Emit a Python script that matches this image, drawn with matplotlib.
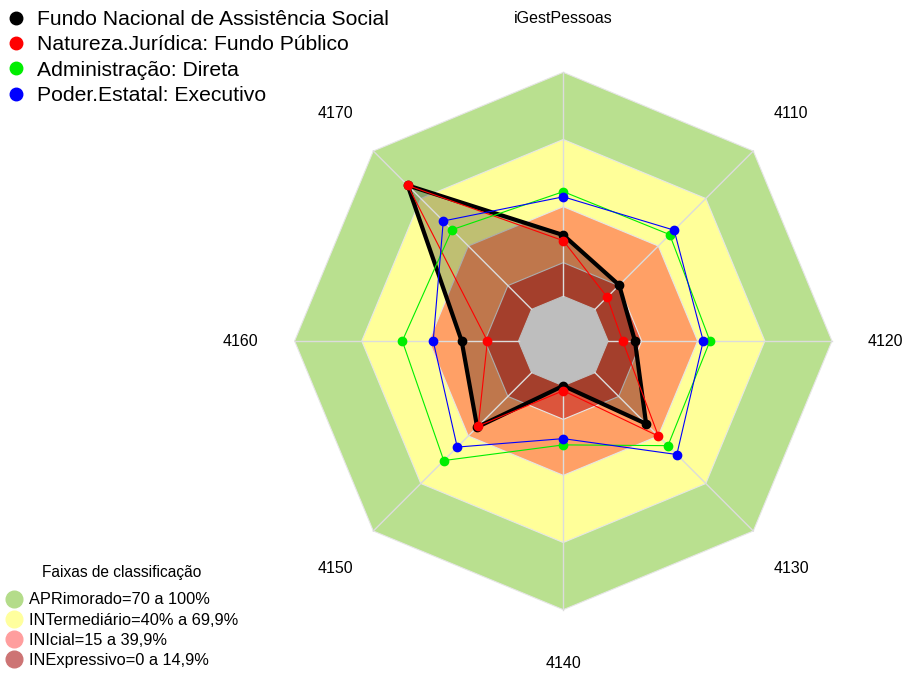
import numpy as np
import matplotlib
matplotlib.use('Agg')
import matplotlib.pyplot as plt
from matplotlib.lines import Line2D
from matplotlib.patches import Polygon

plt.rcParams['font.family'] = ['Liberation Sans', 'DejaVu Sans']

# dados
categorias = ['iGestPessoas', '4110', '4120', '4130', '4140', '4150', '4160', '4170']
fundo_nacional = [27.3, 15.3, 12.0, 32.3, 0.0, 34.4, 25.4, 78.3]
natureza_juridica = [24.8, 7.7, 6.5, 40.1, 2.2, 33.7, 13.9, 78.3]
administracao = [46.7, 47.2, 45.5, 46.1, 26.4, 55.5, 51.9, 50.3]
poder_estatal = [44.4, 50.0, 42.5, 51.7, 23.6, 47.0, 38.1, 55.8]
nomes_series = ['Fundo Nacional de Assistência Social',
                'Natureza.Jurídica: Fundo Público',
                'Administração: Direta',
                'Poder.Estatal: Executivo']
faixas_lim = [100, 70, 40, 15]
faixas_nomes = ['APRimorado=70 a 100%', 'INTermediário=40% a 69,9%',
                'INIcial=15 a 39,9%', 'INExpressivo=0 a 14,9%']

# estilos
cores_faixas = ['#B9E08F', '#FFFF99', '#FFA066', '#DC553C']
cores_leg_faixas = ['#B4DC8A', '#FFFF9E', '#FF9E9E', '#CD7474']
cores_series = ['black', 'red', '#00EE00', 'blue']
larg_series = [3.0, 0.8, 0.8, 0.8]

n = len(categorias)
ang = np.deg2rad(90 - 360 / n * np.arange(n))


def raio(v):
    # centro deslocado (1/6 do raio) como no fmsb
    return (1 + 5 * np.asarray(v, dtype=float) / 100) / 6


def xy(v):
    r = raio(v)
    return r * np.cos(ang), r * np.sin(ang)


fig = plt.figure(figsize=(9.05, 6.73), dpi=100)
ax = fig.add_axes([0, 0, 1, 1])
R = 268.7
cx, cy = 563.3, 341
ax.set_xlim(-cx / R, (905 - cx) / R)
ax.set_ylim(-(673 - cy) / R, cy / R)
ax.set_aspect('equal')
ax.axis('off')

# faixas
for lim, cor in zip(faixas_lim, cores_faixas):
    px, py = xy([lim] * n)
    ax.add_patch(Polygon(np.c_[px, py], closed=True, fc=cor, ec='#E6E6E6', lw=0.8, zorder=1))

# series
series = [fundo_nacional, natureza_juridica, administracao, poder_estatal]
px, py = xy(series[0])
ax.add_patch(Polygon(np.c_[px, py], closed=True, fc=(0, 0, 0, 0.25), ec='none', zorder=2))

# centro cinza e eixos por cima do preenchimento
px, py = xy([0] * n)
ax.add_patch(Polygon(np.c_[px, py], closed=True, fc='#BEBEBE', ec='#BEBEBE', lw=0.8, zorder=3))
x0, y0 = xy([0] * n)
x1, y1 = xy([100] * n)
for i in range(n):
    ax.plot([x0[i], x1[i]], [y0[i], y1[i]], color='#DCDCDC', lw=1, zorder=3)

for k, (vals, cor, lw) in enumerate(zip(series, cores_series, larg_series)):
    px, py = xy(vals)
    ax.plot(np.r_[px, px[0]], np.r_[py, py[0]], color=cor, lw=lw, zorder=4 + k)
    ax.plot(px, py, 'o', color=cor, ms=6, zorder=4 + k)

# rotulos
xl, yl = np.cos(ang) * 1.2, np.sin(ang) * 1.2
for i, c in enumerate(categorias):
    ax.text(xl[i], yl[i], c, ha='center', va='center', fontsize=11.5)

# legendas
h1 = [Line2D([], [], marker='o', ls='none', color=c, ms=9) for c in cores_series]
leg1 = fig.legend(h1, nomes_series, loc='upper left', bbox_to_anchor=(0.006, 0.985),
                  frameon=False, fontsize=15.2, handlelength=1, handletextpad=0.5,
                  labelspacing=0.3, borderpad=0, borderaxespad=0)

h2 = [Line2D([], [], marker='o', ls='none', color=c, ms=12) for c in cores_leg_faixas]
leg2 = fig.legend(h2, faixas_nomes, loc='upper left', bbox_to_anchor=(0.006, 1 - 565 / 673),
                  frameon=False, fontsize=11.8, title='Faixas de classificação',
                  title_fontsize=11.2, handlelength=1, handletextpad=0.45,
                  labelspacing=0.32, borderpad=0, borderaxespad=0)
leg2._legend_box.sep = 9

fig.savefig('out.png', dpi=100)
